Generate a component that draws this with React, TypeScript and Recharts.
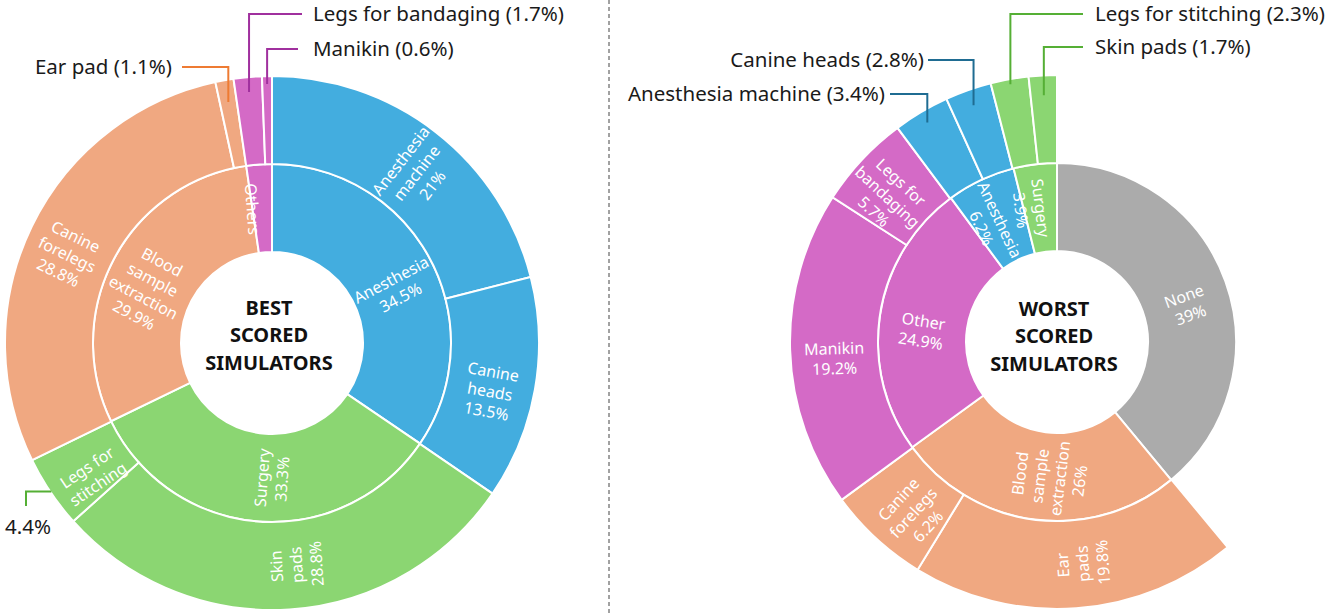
import React from 'react'
import { PieChart, Pie, Cell } from 'recharts'

// Colours
const BLUE = '#43ADDF'
const GREEN = '#8BD672'
const SALMON = '#F0A881'
const PINK = '#D46AC6'
const GREY = '#ABABAB'

// Best scored simulators - inner ring
const bestCategories = ['Anesthesia', 'Surgery', 'Blood sample extraction', 'Others']
const bestCategoryValues = [34.5, 33.3, 29.9, 2.3]
const bestCategoryColors = [BLUE, GREEN, SALMON, PINK]

// Best scored simulators - outer ring
const bestSimulators = ['Anesthesia machine', 'Canine heads', 'Skin pads', 'Legs for stitching', 'Canine forelegs', 'Ear pad', 'Legs for bandaging', 'Manikin']
const bestSimulatorValues = [21, 13.5, 28.8, 4.4, 28.8, 1.1, 1.7, 0.6]
const bestSimulatorColors = [BLUE, BLUE, GREEN, GREEN, SALMON, SALMON, PINK, PINK]

// Worst scored simulators - inner ring
const worstCategories = ['None', 'Blood sample extraction', 'Other', 'Anesthesia', 'Surgery']
const worstCategoryValues = [39, 26, 24.9, 6.2, 3.9]
const worstCategoryColors = [GREY, SALMON, PINK, BLUE, GREEN]

// Worst scored simulators - outer ring ("None" has no breakdown, left empty)
const worstSimulators = ['', 'Ear pads', 'Canine forelegs', 'Manikin', 'Legs for bandaging', 'Anesthesia machine', 'Canine heads', 'Legs for stitching', 'Skin pads']
const worstSimulatorValues = [39, 19.8, 6.2, 19.2, 5.7, 3.4, 2.8, 2.3, 1.7]
const worstSimulatorColors = ['none', SALMON, SALMON, PINK, PINK, BLUE, BLUE, GREEN, GREEN]

// how names wrap inside the rings
const WRAP: Record<string, string[]> = {
  'Anesthesia machine': ['Anesthesia', 'machine'],
  'Canine heads': ['Canine', 'heads'],
  'Skin pads': ['Skin', 'pads'],
  'Legs for stitching': ['Legs for', 'stitching'],
  'Canine forelegs': ['Canine', 'forelegs'],
  'Blood sample extraction': ['Blood', 'sample', 'extraction'],
  'Ear pads': ['Ear', 'pads'],
  'Legs for bandaging': ['Legs for', 'bandaging'],
}

const NO_VALUE = ['Others', 'Legs for stitching']

const PURPLE_LINE = '#A0309E'
const ORANGE_LINE = '#EE7B33'
const GREEN_LINE = '#55AF35'
const BLUE_LINE = '#1F6C92'

// callout layout (outside labels with leader lines)
const BEST_CALLOUTS: Record<string, any> = {
  'Ear pad': { r: 245, y: 67, lineTo: 182, textX: 172, anchor: 'end', color: ORANGE_LINE },
  'Legs for bandaging': { r: 252, y: 14, lineTo: 302, textX: 313, anchor: 'start', color: PURPLE_LINE },
  'Manikin': { r: 259, y: 49, lineTo: 298, textX: 313, anchor: 'start', color: PURPLE_LINE },
  'Legs for stitching': { r: 266, hv: true, elbowX: 26, endY: 506, textX: 5, textY: 527, anchor: 'start', valueOnly: true, color: GREEN_LINE },
}

const WORST_CALLOUTS: Record<string, any> = {
  'Anesthesia machine': { r: 255, y: 94, lineTo: 890, textX: 885, anchor: 'end', color: BLUE_LINE },
  'Canine heads': { r: 251, y: 60, lineTo: 928, textX: 924, anchor: 'end', color: BLUE_LINE },
  'Legs for stitching': { r: 262, y: 14, lineTo: 1083, textX: 1095, anchor: 'start', color: GREEN_LINE },
  'Skin pads': { r: 247, y: 47, lineTo: 1083, textX: 1095, anchor: 'start', color: GREEN_LINE },
}

const FONT = '"Noto Sans", "Open Sans", sans-serif'
const RADIAN = Math.PI / 180
const LINE_H = 20
const LABEL_SHIFT = 10

function buildRing(names: string[], values: number[], colors: string[], callouts: Record<string, any>) {
  return names.map((name, i) => {
    const callout = callouts[name]
    const inLabel = name !== '' && (!callout || callout.valueOnly)
    return {
      name,
      value: values[i],
      color: colors[i],
      lines: inLabel ? WRAP[name] || [name] : null,
      showValue: inLabel && !NO_VALUE.includes(name),
      callout: callout || null,
    }
  })
}

const bestInner = buildRing(bestCategories, bestCategoryValues, bestCategoryColors, {})
const bestOuter = buildRing(bestSimulators, bestSimulatorValues, bestSimulatorColors, BEST_CALLOUTS)
const worstInner = buildRing(worstCategories, worstCategoryValues, worstCategoryColors, {})
const worstOuter = buildRing(worstSimulators, worstSimulatorValues, worstSimulatorColors, WORST_CALLOUTS)

function polar(cx: number, cy: number, r: number, midAngle: number) {
  return { x: cx + r * Math.cos(-midAngle * RADIAN), y: cy + r * Math.sin(-midAngle * RADIAN) }
}

// radial text, flipped so it never reads upside down
function radialRotation(midAngle: number) {
  let r = -midAngle
  while (r > 180) r -= 360
  while (r <= -180) r += 360
  if (r > 80 || r < -90) r += 180
  while (r > 180) r -= 360
  return r
}

function renderCallout(cx: number, cy: number, midAngle: number, d: any) {
  const c = d.callout
  const p = polar(cx, cy, c.r, midAngle)
  const path = c.hv
    ? `M${p.x},${p.y}H${c.elbowX}V${c.endY}`
    : `M${p.x},${p.y}V${c.y}H${c.lineTo}`
  const text = c.valueOnly ? `${d.value}%` : `${d.name} (${d.value}%)`
  return (
    <g>
      <path d={path} stroke={c.color} strokeWidth={2} fill="none" />
      <text
        x={c.textX}
        y={c.hv ? c.textY : c.y}
        dy="0.35em"
        textAnchor={c.anchor}
        fill="#1a1a1a"
        fontSize={20.5}
        fontFamily={FONT}
      >
        {text}
      </text>
    </g>
  )
}

const renderLabel = (props: any) => {
  const { cx, cy, midAngle, innerRadius, outerRadius } = props
  const d = props.payload && props.payload.lines !== undefined ? props.payload : props
  const els: any[] = []
  if (d.callout) els.push(<g key="c">{renderCallout(cx, cy, midAngle, d)}</g>)
  if (d.lines) {
    const lines = d.showValue ? [...d.lines, `${d.value}%`] : d.lines
    const rot = radialRotation(midAngle)
    const p = polar(cx, cy, (innerRadius + outerRadius) / 2, midAngle)
    const n = lines.length
    els.push(
      <g key="t" transform={`translate(${p.x},${p.y}) rotate(${rot})`}>
        <text textAnchor="middle" fill="#fff" fontSize={16} fontFamily={FONT}>
          {lines.map((l: string, i: number) => (
            <tspan key={i} x={0} y={(i - (n - 1) / 2) * LINE_H + LABEL_SHIFT} dy="0.35em">
              {l}
            </tspan>
          ))}
        </text>
      </g>
    )
  }
  if (!els.length) return null
  return <g>{els}</g>
}

function Ring({ data, cx, cy, inner, outer }: any) {
  return (
    <Pie
      data={data}
      dataKey="value"
      nameKey="name"
      cx={cx}
      cy={cy}
      innerRadius={inner}
      outerRadius={outer}
      startAngle={90}
      endAngle={-270}
      stroke="#fff"
      strokeWidth={2}
      labelLine={false}
      label={renderLabel}
      isAnimationActive={false}
    >
      {data.map((entry: any, index: number) => (
        <Cell
          key={`cell-${index}`}
          fill={entry.color}
          stroke={entry.color === 'none' ? 'none' : '#fff'}
        />
      ))}
    </Pie>
  )
}

const CENTER_LINES_BEST = ['BEST', 'SCORED', 'SIMULATORS']
const CENTER_LINES_WORST = ['WORST', 'SCORED', 'SIMULATORS']

function CenterTitle({ x, y, lines }: { x: number; y: number; lines: string[] }) {
  return (
    <text textAnchor="middle" fontFamily={FONT} fontWeight={700} fontSize={20} fill="#111">
      {lines.map((l, i) => (
        <tspan key={i} x={x} y={y + (i - 1) * 27.5} dy="0.35em">
          {l}
        </tspan>
      ))}
    </text>
  )
}

export default function App() {
  const bestC = { x: 272, y: 343 }
  const worstC = { x: 1057, y: 342 }
  return (
    <div style={{ position: 'absolute', left: 0, top: 0, width: 1325, height: 615, background: '#fff' }}>
      <PieChart width={1325} height={615} margin={{ top: 0, right: 0, bottom: 0, left: 0 }}>
        <Ring data={bestInner} cx={bestC.x} cy={bestC.y} inner={91} outer={179} />
        <Ring data={bestOuter} cx={bestC.x} cy={bestC.y} inner={179} outer={267} />
        <Ring data={worstInner} cx={worstC.x} cy={worstC.y} inner={91} outer={179} />
        <Ring data={worstOuter} cx={worstC.x} cy={worstC.y} inner={179} outer={267} />
        <line x1={609} y1={0} x2={609} y2={615} stroke="#444" strokeWidth={1} strokeDasharray="4 3" />
        <CenterTitle x={bestC.x - 3} y={bestC.y - 8} lines={CENTER_LINES_BEST} />
        <CenterTitle x={worstC.x - 3} y={worstC.y - 6} lines={CENTER_LINES_WORST} />
      </PieChart>
    </div>
  )
}
